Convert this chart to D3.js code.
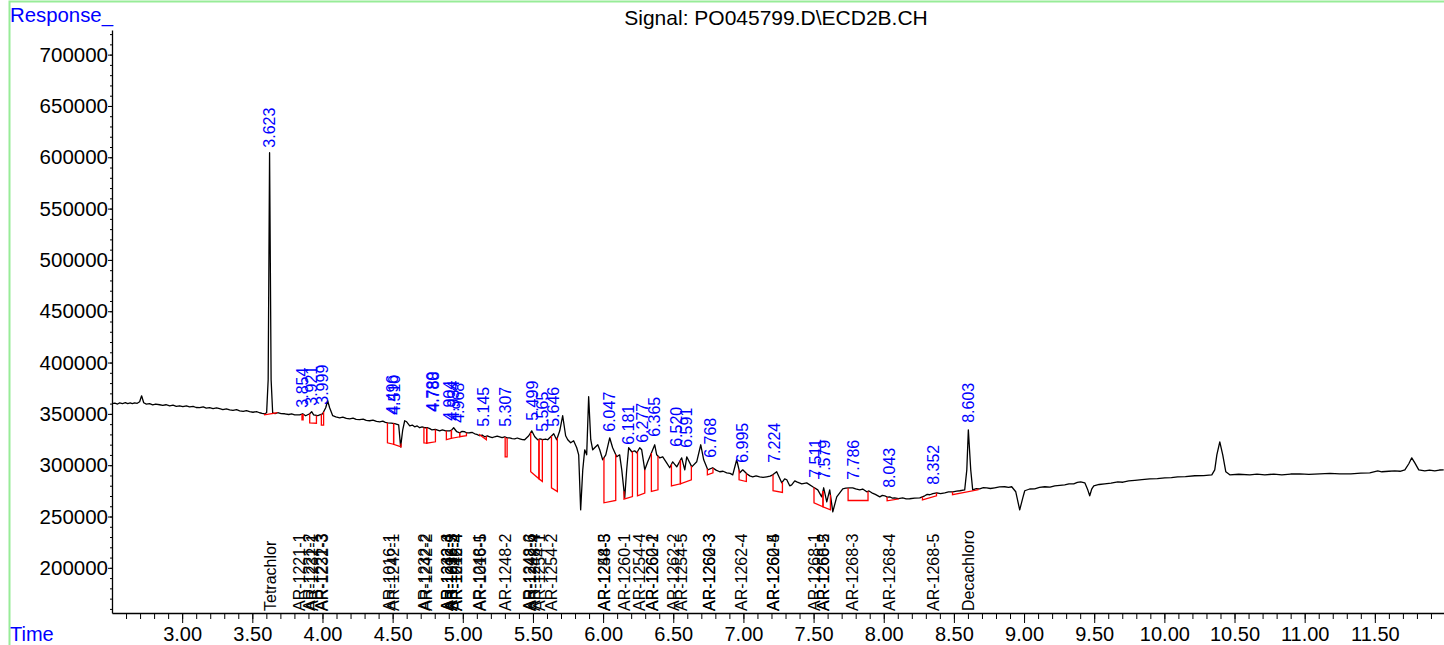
<!DOCTYPE html>
<html><head><meta charset="utf-8">
<script src="https://cdn.jsdelivr.net/npm/d3@7"></script>
<style>body{margin:0;background:#fff;} svg{display:block;font-family:"Liberation Sans",Arial,sans-serif;}</style>
</head><body><svg id="c" width="1444" height="645"></svg>
<script>
// ---- data ----
const title = "Signal: PO045799.D\\ECD2B.CH";
const yLabel = "Response_";
const xLabel = "Time";
const yTicks = [200000,250000,300000,350000,400000,450000,500000,550000,600000,650000,700000];
const xTicks = [3.0,3.5,4.0,4.5,5.0,5.5,6.0,6.5,7.0,7.5,8.0,8.5,9.0,9.5,10.0,10.5,11.0,11.5];

// chromatogram trace: [time (min), response]
const trace = [[2.500,359900],[2.520,360500],[2.540,359600],[2.555,360800],[2.575,360100],[2.595,360900],[2.612,359900],[2.630,360600],[2.645,360000],[2.661,360800],[2.680,360300],[2.697,361800],[2.711,367600],[2.726,360800],[2.745,359500],[2.768,359900],[2.790,358800],[2.812,359600],[2.840,358900],[2.862,358200],[2.885,358900],[2.911,357900],[2.935,358500],[2.958,357400],[2.982,357900],[3.005,357000],[3.030,357700],[3.053,356900],[3.078,357300],[3.100,356200],[3.125,356000],[3.150,356800],[3.172,355600],[3.196,356000],[3.220,355200],[3.245,355800],[3.267,355000],[3.290,354200],[3.315,354900],[3.339,354000],[3.362,353400],[3.388,354100],[3.410,353000],[3.435,352400],[3.458,353200],[3.481,352100],[3.505,351600],[3.530,352200],[3.552,351100],[3.570,350500],[3.588,350100],[3.602,351100],[3.613,383200],[3.623,604500],[3.634,383200],[3.645,351100],[3.662,350300],[3.681,351100],[3.705,350200],[3.731,350100],[3.760,349400],[3.780,350000],[3.802,349100],[3.837,349100],[3.859,350100],[3.880,348200],[3.909,350100],[3.923,352100],[3.937,349100],[3.966,348200],[3.980,349100],[4.001,350100],[4.023,356000],[4.037,362800],[4.051,356000],[4.073,348200],[4.095,347100],[4.123,346200],[4.145,346900],[4.170,345600],[4.194,345200],[4.218,345900],[4.240,344600],[4.265,344300],[4.290,344900],[4.312,343700],[4.336,343300],[4.360,343900],[4.385,342600],[4.408,342300],[4.430,342900],[4.448,341700],[4.465,341300],[4.490,341000],[4.515,340400],[4.543,339400],[4.557,317900],[4.572,334500],[4.586,343300],[4.600,342300],[4.622,338400],[4.640,339100],[4.657,337400],[4.675,338200],[4.693,336500],[4.710,337300],[4.728,336500],[4.750,336500],[4.765,335600],[4.778,334500],[4.805,334900],[4.835,333500],[4.855,334300],[4.878,333500],[4.907,333500],[4.920,334200],[4.935,336500],[4.957,332600],[4.978,331600],[4.995,332900],[5.014,332600],[5.030,331400],[5.049,331600],[5.068,331900],[5.085,330600],[5.100,330100],[5.120,328700],[5.138,329400],[5.156,327700],[5.175,328500],[5.192,327700],[5.210,326800],[5.227,327700],[5.245,328400],[5.263,327700],[5.280,326900],[5.299,327700],[5.316,326600],[5.334,326700],[5.352,325900],[5.370,325700],[5.388,326500],[5.406,325700],[5.425,324900],[5.441,324800],[5.470,328700],[5.491,333500],[5.513,327700],[5.534,324800],[5.550,325600],[5.570,324800],[5.590,325500],[5.605,324800],[5.634,328700],[5.648,330600],[5.669,324800],[5.691,333500],[5.712,348200],[5.733,328700],[5.748,324800],[5.769,321800],[5.790,323800],[5.812,317000],[5.826,310100],[5.840,256500],[5.855,295500],[5.869,315000],[5.883,310100],[5.897,366700],[5.912,324800],[5.926,315000],[5.947,318000],[5.962,319900],[5.976,315000],[5.997,305300],[6.019,310100],[6.047,326700],[6.068,317000],[6.097,308200],[6.118,310100],[6.133,295500],[6.154,268200],[6.168,295500],[6.182,317000],[6.204,313100],[6.225,314000],[6.240,312100],[6.261,317000],[6.275,315000],[6.297,295500],[6.318,303300],[6.339,310100],[6.368,319900],[6.382,310100],[6.403,307200],[6.425,308200],[6.453,302300],[6.475,297500],[6.496,303300],[6.525,298400],[6.560,307200],[6.582,295500],[6.596,308200],[6.632,298400],[6.667,303300],[6.696,319900],[6.717,305300],[6.746,295500],[6.781,297500],[6.805,295200],[6.831,293600],[6.855,294100],[6.881,292600],[6.905,292000],[6.924,290600],[6.952,305300],[6.974,292600],[6.995,295500],[7.024,291600],[7.045,289600],[7.066,288700],[7.090,289500],[7.116,288700],[7.140,288100],[7.166,288700],[7.190,289300],[7.209,290600],[7.237,293600],[7.273,282800],[7.294,286700],[7.309,285800],[7.330,279900],[7.344,280900],[7.366,284800],[7.380,283800],[7.416,281900],[7.451,282800],[7.494,279000],[7.530,276000],[7.558,269200],[7.572,278000],[7.594,264300],[7.615,276000],[7.637,254600],[7.665,269200],[7.708,277000],[7.730,277700],[7.758,278000],[7.779,278000],[7.800,276900],[7.829,276000],[7.850,276800],[7.879,274100],[7.895,274900],[7.915,273100],[7.940,271500],[7.972,269200],[7.990,270600],[8.007,270200],[8.025,268900],[8.043,269200],[8.060,268000],[8.078,268200],[8.105,267500],[8.135,268200],[8.160,267200],[8.185,267300],[8.220,268000],[8.257,268200],[8.275,269200],[8.292,270200],[8.310,271600],[8.328,271200],[8.350,272400],[8.378,273100],[8.405,272300],[8.435,273100],[8.462,274000],[8.492,274100],[8.520,274800],[8.542,275100],[8.577,276000],[8.592,295500],[8.603,334500],[8.620,295500],[8.634,276000],[8.660,277200],[8.684,277000],[8.710,278100],[8.734,278000],[8.760,277300],[8.791,278000],[8.825,278800],[8.862,279000],[8.890,278400],[8.912,279000],[8.941,274100],[8.969,256500],[8.991,268200],[9.005,275100],[9.040,276800],[9.076,277000],[9.110,278300],[9.148,279000],[9.185,278600],[9.219,279900],[9.255,280400],[9.290,280900],[9.320,281800],[9.354,281900],[9.380,283300],[9.404,283800],[9.433,282800],[9.454,276000],[9.468,270200],[9.483,277000],[9.497,279900],[9.535,281200],[9.575,281900],[9.620,282600],[9.668,283800],[9.705,283400],[9.746,284800],[9.790,285300],[9.840,285900],[9.896,286700],[9.950,286900],[10.003,287700],[10.050,287900],[10.095,288700],[10.150,288900],[10.217,289700],[10.280,289900],[10.338,290600],[10.359,295500],[10.374,310100],[10.395,322800],[10.416,310100],[10.438,293600],[10.466,290600],[10.530,291200],[10.609,290600],[10.660,291300],[10.716,290600],[10.780,291300],[10.837,290600],[10.900,291400],[10.965,291600],[11.030,291000],[11.108,291600],[11.180,292100],[11.250,291600],[11.329,291600],[11.400,292300],[11.464,292600],[11.521,294500],[11.550,293600],[11.600,294100],[11.642,294500],[11.680,294100],[11.714,295500],[11.742,301400],[11.763,307200],[11.785,302300],[11.813,295500],[11.856,294500],[11.890,295300],[11.927,294500],[11.960,295300],[11.991,295500]];

// integrated peaks: retention time and response at the foot of the label
const peakRT = [3.623,3.854,3.921,3.999,4.496,4.510,4.780,4.788,4.904,4.934,4.968,5.145,5.307,5.499,5.565,5.646,6.047,6.181,6.277,6.365,6.520,6.591,6.768,6.995,7.224,7.511,7.579,7.786,8.043,8.352,8.603];
const peakLabelBase = [609400,356000,357900,358900,349100,349100,352100,352100,343300,343300,341300,337400,337400,343300,332600,337400,332600,319900,321800,327700,317900,317000,307200,302300,302300,287700,285800,285800,278000,280900,341300];

// integration baselines: [start time, end time, baseline response at start, at end]
const integrations = [[3.588,3.674,349100,351100],[3.854,3.862,344300,344300],[3.909,3.957,341300,340900],[3.992,4.008,339000,339000],[4.463,4.507,321800,320400],[4.507,4.560,320400,317900],[4.723,4.743,321800,321500],[4.743,4.805,321500,322800],[4.883,4.919,324800,326200],[4.919,4.978,326200,327700],[4.978,5.026,327700,328700],[5.120,5.168,329700,324800],[5.302,5.316,308200,308200],[5.484,5.543,293600,286700],[5.543,5.567,286700,284100],[5.632,5.674,278000,274400],[6.006,6.090,263400,265600],[6.149,6.209,267000,269500],[6.245,6.297,270200,272800],[6.344,6.391,274400,276000],[6.487,6.551,279900,281900],[6.551,6.629,281900,285800],[6.743,6.783,290600,292600],[6.969,7.021,285800,284100],[7.211,7.278,275100,273400],[7.503,7.567,263400,259500],[7.567,7.620,259500,256500],[7.746,7.888,265600,265600],[8.024,8.102,265300,267000],[8.276,8.376,266300,270200],[8.490,8.672,271200,276000]];

// compound names (identified) and their retention times
const compoundRT = [3.626,3.833,3.904,3.925,3.993,3.998,4.474,4.503,4.728,4.740,4.887,4.890,4.918,4.921,4.954,4.957,5.120,5.123,5.306,5.477,5.480,5.512,5.548,5.630,6.008,6.011,6.154,6.260,6.351,6.354,6.503,6.558,6.755,6.758,6.986,7.211,7.214,7.508,7.567,7.570,7.777,8.043,8.356,8.600];
const compoundName = ["Tetrachlor","AR-1221-1","AR-1221-2","AR-1232-1","AR-1221-3","AR-1232-3","AR-1016-1","AR-1242-1","AR-1232-2","AR-1242-2","AR-1232-4","AR-1242-3","AR-1016-3","AR-1232-5","AR-1242-4","AR-1016-4","AR-1248-1","AR-1016-5","AR-1248-2","AR-1248-3","AR-1242-6","AR-1248-4","AR-1254-1","AR-1254-2","AR-1254-3","AR-1248-5","AR-1260-1","AR-1254-4","AR-1260-2","AR-1262-1","AR-1262-2","AR-1254-5","AR-1260-3","AR-1262-3","AR-1262-4","AR-1260-4","AR-1262-5","AR-1268-1","AR-1268-2","AR-1260-5","AR-1268-3","AR-1268-4","AR-1268-5","Decachloro"];

// ---- drawing ----
const svg = d3.select("#c");
const x = d3.scaleLinear().domain([2.5, 12.0]).range([112, 1445]);
const y = d3.scaleLinear().domain([156000, 724000]).range([613, 30]);
const BLUE = "#0000ff";
const FONT = "Liberation Sans, Arial, sans-serif";

// frame
svg.append("rect").attr("x", 9.5).attr("y", 1.5).attr("width", 1460).attr("height", 660)
  .attr("fill", "none").attr("stroke", "#98ec98").attr("stroke-width", 2);

// y axis
const yMinor = d3.range(160000, 724001, 10000);
const gy = svg.append("g").attr("transform", "translate(112,0)");
gy.call(d3.axisLeft(y).tickValues(yMinor).tickSize(2).tickSizeOuter(0).tickFormat(""));
const gyM = svg.append("g").attr("transform", "translate(112,0)");
gyM.call(d3.axisLeft(y).tickValues(yTicks).tickSize(4).tickSizeOuter(0).tickPadding(0).tickFormat(d3.format("d")));
gyM.select(".domain").remove();
gyM.selectAll("text").attr("font-size", 20.5).attr("font-family", FONT).attr("fill", "#000");

// x axis
const xMinor = d3.range(2.6, 11.95, 0.1);
const gx = svg.append("g").attr("transform", "translate(0,613)");
gx.call(d3.axisBottom(x).tickValues(xMinor).tickSize(6).tickSizeOuter(0).tickFormat(""));
const gxM = svg.append("g").attr("transform", "translate(0,613)");
gxM.call(d3.axisBottom(x).tickValues(xTicks).tickSize(10).tickSizeOuter(0).tickFormat(d3.format(".2f")));
gxM.select(".domain").remove();
gxM.selectAll("text").attr("y", 28).attr("dy", 0).attr("font-size", 20)
  .attr("font-family", FONT).attr("fill", "#000");
svg.selectAll(".domain").attr("stroke", "#000").attr("stroke-width", 1.3);
svg.selectAll(".tick line").attr("stroke", "#000");

// axis titles and signal title
svg.append("text").attr("x", 10).attr("y", 22).attr("fill", BLUE).attr("font-size", 20)
  .attr("textLength", 103).attr("lengthAdjust", "spacingAndGlyphs").text(yLabel);
svg.append("text").attr("x", 10).attr("y", 641).attr("fill", BLUE).attr("font-size", 20).text(xLabel);
svg.append("text").attr("x", 776).attr("y", 25).attr("text-anchor", "middle").attr("font-size", 21).attr("fill", "#000").text(title);

// trace
const line = d3.line().x(d => x(d[0])).y(d => y(d[1]));
svg.append("path").datum(trace).attr("d", line).attr("fill", "none")
  .attr("stroke", "#000").attr("stroke-width", 1.3).attr("stroke-linejoin", "round");

// interpolate trace value at a time
const bis = d3.bisector(d => d[0]).left;
function traceAt(t) {
  let i = bis(trace, t);
  if (i <= 0) return trace[0][1];
  if (i >= trace.length) return trace[trace.length - 1][1];
  const a = trace[i - 1], b = trace[i];
  return a[1] + (b[1] - a[1]) * (t - a[0]) / (b[0] - a[0]);
}

// integration baselines
svg.append("g").selectAll("path").data(integrations).join("path")
  .attr("d", d => {
    const x1 = x(d[0]), x2 = x(d[1]);
    return `M${x1},${y(traceAt(d[0]))}L${x1},${y(d[2])}L${x2},${y(d[3])}L${x2},${y(traceAt(d[1]))}`;
  })
  .attr("fill", "none").attr("stroke", "#ff0000").attr("stroke-width", 1.3);

// peak labels
svg.append("g").selectAll("text").data(peakRT).join("text")
  .attr("transform", (d, i) => `translate(${x(d)},${y(peakLabelBase[i])}) rotate(-90)`)
  .attr("dy", "0.35em").attr("text-anchor", "start").attr("font-size", 16)
  .attr("fill", BLUE).text(d => d3.format(".3f")(d));

// compound labels
svg.append("g").selectAll("text").data(compoundRT).join("text")
  .attr("transform", d => `translate(${x(d)},611) rotate(-90)`)
  .attr("dy", "0.35em").attr("text-anchor", "start").attr("font-size", 16)
  .attr("fill", "#000").text((d, i) => compoundName[i]);
</script>
</body></html>
